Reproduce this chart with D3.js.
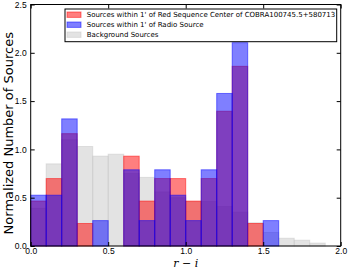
<!DOCTYPE html>
<html>
<head>
<meta charset="utf-8">
<script src="https://cdn.jsdelivr.net/npm/d3@7"></script>
<style>
  body { margin: 0; background: #fff; }
  svg { display: block; font-family: "DejaVu Sans", sans-serif; }
  .axis path { display: none; }
  .axis line { stroke: #000; }
  .axis text { font-size: 8.5px; fill: #000; }
</style>
</head>
<body>
<script>
// bin left edges (r - i), width 0.1
var binStarts = [0.0, 0.1, 0.2, 0.3, 0.4, 0.5, 0.6, 0.7, 0.8, 0.9, 1.0, 1.1, 1.2, 1.3, 1.4, 1.5, 1.6, 1.7, 1.8];
var binWidth = 0.1;
// normalized counts
var redSeq  = [0.465, 0.698, 1.163, 0.233, 0, 0, 0.930, 0.465, 0.698, 0.698, 0.465, 0.698, 1.395, 1.860, 0.233, 0, 0, 0, 0];
var radio   = [0.526, 0.526, 1.316, 0, 0.263, 0, 0.789, 0.263, 0.789, 0.526, 0.263, 0.789, 1.579, 2.105, 0, 0.263, 0, 0, 0];
var backgr  = [0.39, 0.85, 1.10, 1.03, 0.93, 0.95, 0.75, 0.71, 0.56, 0.50, 0.46, 0.46, 0.41, 0.35, 0.24, 0.14, 0.08, 0.06, 0.03];
var xTicks = [0, 0.5, 1.0, 1.5, 2.0];
var yTicks = [0, 0.5, 1.0, 1.5, 2.0, 2.5];
var legendLabels = [
  "Sources within 1' of Red Sequence Center of COBRA100745.5+580713",
  "Sources within 1' of Radio Source",
  "Background Sources"
];

var W = 351, H = 271;
var mLeft = 30.7, mRight = 340.7, mTop = 4.5, mBottom = 246;

var svg = d3.select("body").append("svg")
    .attr("width", W)
    .attr("height", H);

var x = d3.scaleLinear().domain([0, 2]).range([mLeft, mRight]);
var y = d3.scaleLinear().domain([0, 2.5]).range([mBottom, mTop]);

// histograms: background first, then red, then blue on top
var series = [
  { vals: backgr, color: "#c8c8c8", op: 0.5 },
  { vals: redSeq, color: "red", op: 0.5 },
  { vals: radio,  color: "blue", op: 0.5 }
];

series.forEach(function(s) {
  var bins = binStarts.map(function(b, i) { return { b: b, v: s.vals[i] }; })
                      .filter(function(d) { return d.v > 0; });
  svg.append("g").selectAll("rect")
    .data(bins)
    .enter()
    .append("rect")
    .attr("x", function(d) { return x(d.b); })
    .attr("width", function(d) { return x(d.b + binWidth) - x(d.b); })
    .attr("y", function(d) { return y(d.v); })
    .attr("height", function(d) { return y(0) - y(d.v); })
    .attr("fill", s.color)
    .attr("fill-opacity", s.op)
    .attr("stroke", s.color)
    .attr("stroke-opacity", s.op)
    .attr("stroke-width", 1);
});

// axes, ticks pointing in
svg.append("g").attr("class", "axis")
  .attr("transform", "translate(0," + mBottom + ")")
  .call(d3.axisBottom(x).tickValues(xTicks).tickFormat(d3.format(".1f")).tickSizeInner(-4).tickPadding(2));
svg.append("g").attr("class", "axis")
  .attr("transform", "translate(0," + mTop + ")")
  .call(d3.axisTop(x).tickValues(xTicks).tickSizeInner(-4).tickFormat(""));
svg.append("g").attr("class", "axis")
  .attr("transform", "translate(" + mLeft + ",0)")
  .call(d3.axisLeft(y).tickValues(yTicks).tickFormat(d3.format(".1f")).tickSizeInner(-4).tickPadding(4));
svg.append("g").attr("class", "axis")
  .attr("transform", "translate(" + mRight + ",0)")
  .call(d3.axisRight(y).tickValues(yTicks).tickSizeInner(-4).tickFormat(""));

// frame
svg.append("rect")
  .attr("x", mLeft).attr("y", mTop)
  .attr("width", mRight - mLeft).attr("height", mBottom - mTop)
  .attr("fill", "none").attr("stroke", "#000").attr("stroke-width", 1);

// axis labels
svg.append("text")
  .attr("transform", "translate(13," + ((mTop + mBottom) / 2 + 8) + ") rotate(-90)")
  .attr("text-anchor", "middle")
  .style("font-size", "13px")
  .text("Normalized Number of Sources");

var xl = svg.append("text")
  .attr("x", x(1.0)).attr("y", 267)
  .attr("text-anchor", "middle")
  .style("font-family", "'DejaVu Serif', serif")
  .style("font-size", "11px");
xl.append("tspan").style("font-style", "italic").text("r");
xl.append("tspan").text(" \u2212 ");
xl.append("tspan").style("font-style", "italic").text("i");

// legend
var lg = svg.append("g");
lg.append("rect")
  .attr("x", 65).attr("y", 9)
  .attr("width", 271.7).attr("height", 32.7)
  .attr("fill", "#fff").attr("stroke", "#000").attr("stroke-width", 1);
var legendColors = ["red", "blue", "#c8c8c8"];
legendLabels.forEach(function(t, i) {
  var cy = 14.7 + i * 10;
  lg.append("rect")
    .attr("x", 67).attr("y", cy - 2.7)
    .attr("width", 14).attr("height", 5.4)
    .attr("fill", legendColors[i]).attr("fill-opacity", 0.5)
    .attr("stroke", legendColors[i]).attr("stroke-opacity", 0.5);
  lg.append("text")
    .attr("x", 86.7).attr("y", cy + 2.5)
    .style("font-size", "7px")
    .text(t);
});
</script>
</body>
</html>
